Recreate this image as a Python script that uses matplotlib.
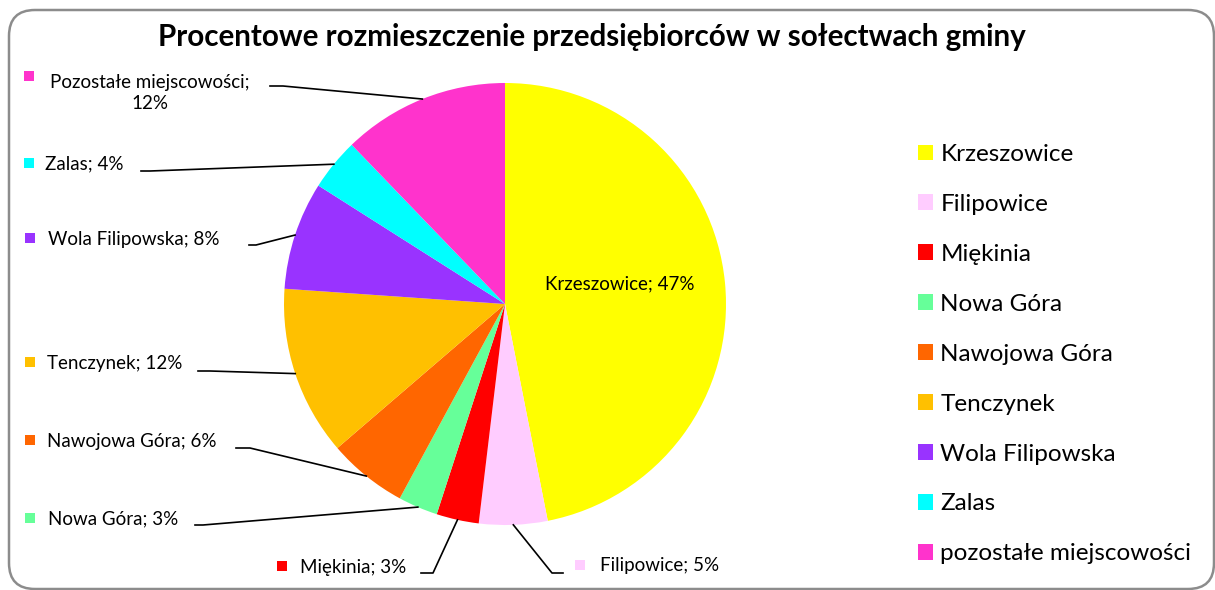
import numpy as np
import matplotlib
matplotlib.use("Agg")
import matplotlib.pyplot as plt
from matplotlib.patches import Rectangle, FancyBboxPatch

plt.rcParams['font.family'] = ['Lato', 'DejaVu Sans']

W, H = 1215, 590

# data
label_names = ['Krzeszowice', 'Filipowice', 'Miękinia', 'Nowa Góra', 'Nawojowa Góra',
               'Tenczynek', 'Wola Filipowska', 'Zalas', 'Pozostałe miejscowości']
legend_names = ['Krzeszowice', 'Filipowice', 'Miękinia', 'Nowa Góra', 'Nawojowa Góra',
                'Tenczynek', 'Wola Filipowska', 'Zalas', 'pozostałe miejscowości']
shares = [46.9, 5.0, 3.1, 2.9, 5.8, 12.4, 7.9, 3.8, 12.2]
colors = ['#FFFF00', '#FFCCFF', '#FF0000', '#66FF99', '#FF6600',
          '#FFC000', '#9933FF', '#00FFFF', '#FF33CC']

# label layout in pixels from top-left: text x, text y, square x, line start x, elbow x, line y
layout = [
    None,
    (600, 566, 580, 563, 552, 573),
    (300, 567, 282, 421, 433, 573),
    (48, 519, 30, 195, 203, 525),
    (47, 441, 30, 236, 250, 448),
    (47, 363, 30, 198, 210, 371),
    (48, 239, 30, 249, 256, 245),
    (45, 164, 29, 141, 150, 171),
    (150, 93, 29, 270, 283, 86),
]

LBL = 13.5


def py(y):
    return H - y


fig = plt.figure(figsize=(W / 100, H / 100), dpi=100)
ax = fig.add_axes([0, 0, 1, 1])

cx, cy, r = 505, py(304), 221
wedges, _ = ax.pie(shares, colors=colors, startangle=90, counterclock=False,
                   center=(cx, cy), radius=r, wedgeprops=dict(linewidth=0))
ax.set_xlim(0, W)
ax.set_ylim(0, H)
ax.set_aspect('equal')
ax.axis('off')

# outer frame
frame = FancyBboxPatch((9, py(589)), 1205, 579, boxstyle='round,pad=0,rounding_size=26',
                       ec='#8c8c8c', fc='none', lw=1.8, clip_on=False)
ax.add_patch(frame)

ax.text(592, py(37), 'Procentowe rozmieszczenie przedsiębiorców w sołectwach gminy',
        ha='center', va='center', fontsize=21.3, fontweight='bold')

for i, w in enumerate(wedges):
    txt = f'{label_names[i]}; {round(shares[i])}%'
    if layout[i] is None:
        ax.text(620, py(284), txt, ha='center', va='center', fontsize=LBL)
        continue
    tx, ty, sx, lx, ex, ly = layout[i]
    mid = np.deg2rad((w.theta1 + w.theta2) / 2)
    px, pyy = cx + r * np.cos(mid), cy + r * np.sin(mid)
    if i == len(wedges) - 1:
        ax.text(tx, py(ty), f'{label_names[i]};\n{round(shares[i])}%', ha='center',
                va='center', fontsize=LBL, multialignment='center', linespacing=1.35)
        ax.add_patch(Rectangle((sx - 5, py(76) - 5), 10, 10, fc=colors[i], ec='none'))
    else:
        ax.text(tx, py(ty), txt, ha='left', va='center', fontsize=LBL)
        ax.add_patch(Rectangle((sx - 5, py(ty - 1) - 5), 10, 10, fc=colors[i], ec='none'))
    ax.plot([lx, ex, px], [py(ly), py(ly), pyy], color='black', lw=1.2)

ax.legend(wedges, legend_names, loc='upper left', bbox_to_anchor=(918, py(144)),
          bbox_transform=ax.transData, frameon=False, fontsize=17.5,
          handlelength=0.62, handleheight=0.62, handletextpad=0.3,
          labelspacing=1.19, borderpad=0, borderaxespad=0)

fig.savefig('out.png', dpi=100)
